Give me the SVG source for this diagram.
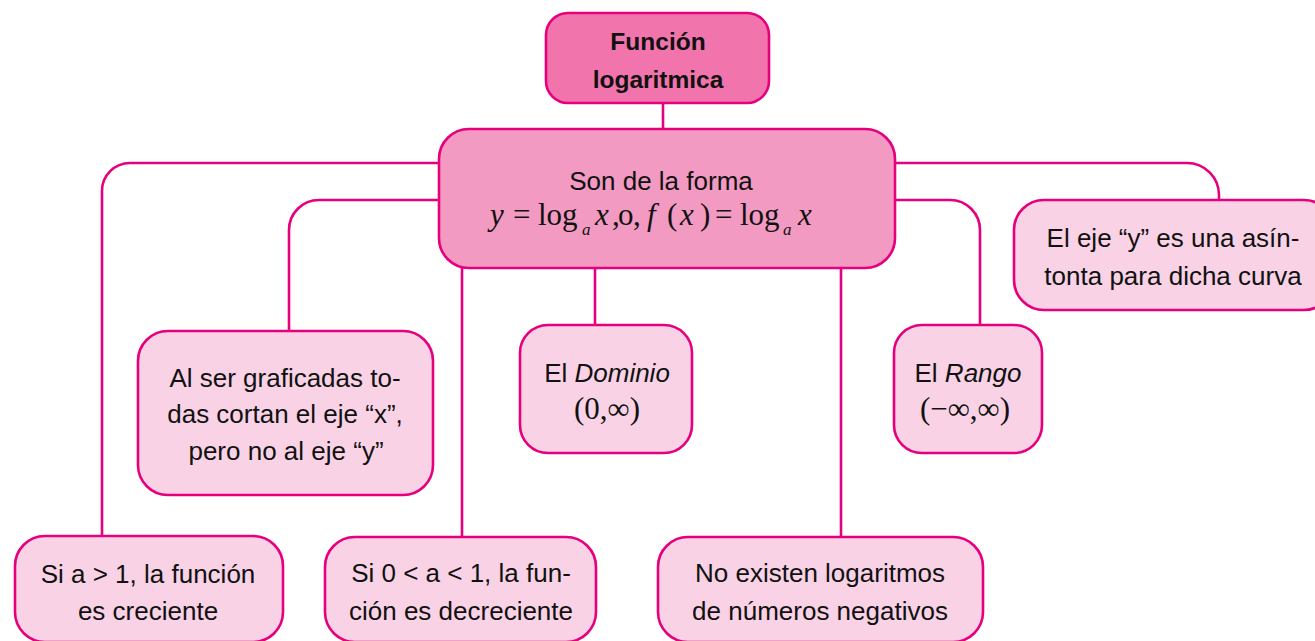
<svg xmlns="http://www.w3.org/2000/svg" width="1315" height="641" viewBox="0 0 1315 641">
<style>
.c{fill:none;stroke:#E6007E;stroke-width:2.6}
.box{stroke:#E6007E;stroke-width:2.6}
.top{fill:#F274AC}
.mid{fill:#F39AC2}
.leaf{fill:#F9D3E5}
.t{font-family:"Liberation Sans",Arial,sans-serif;font-size:26px;fill:#111;text-anchor:middle}
.b{font-weight:bold;font-size:24.5px}
.m{font-family:"Liberation Serif","Times New Roman",serif;font-size:31px;fill:#111}
.i{font-style:italic}
.sub{font-size:17px}
</style>
<rect width="1315" height="641" fill="#fff"/>
<g id="connectors">
<path class="c" d="M663 103V130"/>
<path class="c" d="M450 163H130A28 28 0 0 0 102 191V537"/>
<path class="c" d="M450 200H319A30 30 0 0 0 289 230V331"/>
<path class="c" d="M880 163H1187A32 32 0 0 1 1219 195V200"/>
<path class="c" d="M880 200H950A30 30 0 0 1 980 230V325"/>
<path class="c" d="M462 260V537"/>
<path class="c" d="M595 260V325"/>
<path class="c" d="M841 260V537"/>
</g>
<g id="n-funcion">
<rect class="box top" x="546" y="13" width="223" height="90" rx="22"/>
<text class="t b" x="658" y="50">Función</text>
<text class="t b" x="658" y="88">logaritmica</text>
</g>
<g id="n-forma">
<rect class="box mid" x="439" y="129" width="456" height="139" rx="30"/>
<text class="t" x="661" y="190">Son de la forma</text>
<text class="m"><tspan class="i" x="490" y="225">y</tspan><tspan x="513" y="225">=</tspan><tspan x="538" y="225">log</tspan><tspan class="i sub" x="582" y="235">a</tspan><tspan class="i" x="595" y="225">x</tspan><tspan x="612" y="225">,</tspan><tspan x="618" y="225">o</tspan><tspan x="633" y="225">,</tspan><tspan class="i" x="647" y="225">f</tspan><tspan x="667" y="225">(</tspan><tspan class="i" x="680" y="225">x</tspan><tspan x="700" y="225">)</tspan><tspan x="715" y="225">=</tspan><tspan x="740" y="225">log</tspan><tspan class="i sub" x="783" y="235">a</tspan><tspan class="i" x="798" y="225">x</tspan></text>
</g>
<g id="n-asintota">
<rect class="box leaf" x="1014" y="200" width="320" height="110" rx="30"/>
<text class="t" x="1173" y="247">El eje “y” es una asín-</text>
<text class="t" x="1173" y="285">tonta para dicha curva</text>
</g>
<g id="n-graficadas">
<rect class="box leaf" x="138" y="331" width="295" height="164" rx="30"/>
<text class="t" x="285" y="387">Al ser graficadas to-</text>
<text class="t" x="285" y="423">das cortan el eje “x”,</text>
<text class="t" x="286" y="460">pero no al eje “y”</text>
</g>
<g id="n-dominio">
<rect class="box leaf" x="520" y="325" width="172" height="128" rx="28"/>
<text class="t" x="607" y="382">El <tspan class="i">Dominio</tspan></text>
<text class="m" x="607" y="419" text-anchor="middle">(0,∞)</text>
</g>
<g id="n-rango">
<rect class="box leaf" x="894" y="325" width="148" height="128" rx="28"/>
<text class="t" x="968" y="382">El <tspan class="i">Rango</tspan></text>
<text class="m" x="965" y="419" text-anchor="middle">(−∞,∞)</text>
</g>
<g id="n-creciente">
<rect class="box leaf" x="15" y="536" width="268" height="106" rx="30"/>
<text class="t" x="148" y="583">Si a &gt; 1, la función</text>
<text class="t" x="148" y="620">es creciente</text>
</g>
<g id="n-decreciente">
<rect class="box leaf" x="325" y="537" width="271" height="105" rx="30"/>
<text class="t" x="461" y="582">Si 0 &lt; a &lt; 1, la fun-</text>
<text class="t" x="461" y="620">ción es decreciente</text>
</g>
<g id="n-negativos">
<rect class="box leaf" x="658" y="537" width="325" height="105" rx="30"/>
<text class="t" x="820" y="582">No existen logaritmos</text>
<text class="t" x="820" y="620">de números negativos</text>
</g>
</svg>
